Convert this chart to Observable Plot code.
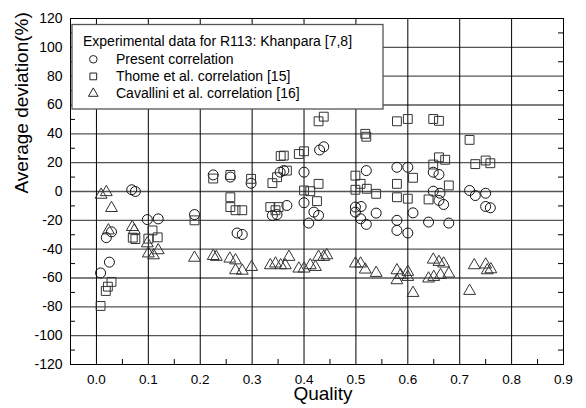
<!DOCTYPE html>
<html><head><meta charset="utf-8">
<script src="https://cdn.jsdelivr.net/npm/d3@7"></script>
<script src="https://cdn.jsdelivr.net/npm/@observablehq/plot@0.6"></script>
<style>body{margin:0;background:#fff}#chart{position:relative;width:586px;height:408px}</style>
</head><body><div id="chart"></div>
<script>
// Present correlation (circles)
const presentQuality = [0.008,0.025,0.019,0.029,0.068,0.075,0.098,0.119,0.189,0.225,0.258,0.298,0.271,0.281,0.354,0.361,0.339,0.348,0.367,0.438,0.43,0.4,0.4,0.419,0.428,0.409,0.52,0.499,0.51,0.499,0.539,0.509,0.52,0.579,0.6,0.579,0.579,0.6,0.61,0.649,0.66,0.649,0.662,0.66,0.669,0.64,0.679,0.719,0.73,0.75,0.75,0.759];
const presentDeviation = [-56.5,-49,-32,-28,1.2,0,-19.5,-19,-16,11.5,10,5.7,-28.8,-29.8,13.4,14.5,-16.6,-16,-9.7,31,28.8,13.4,-7.8,-14.3,-16.6,-21.9,14.5,-10.8,-10.4,-14.3,-15,-18.9,-22.8,16.8,16.8,-20,-27,-28.8,-14.8,13.4,11.8,0.2,-1.2,-6.2,-9,-21.2,-21.9,0.7,-2.8,-1.2,-10.4,-11.3];
// Thome et al. correlation (squares)
const thomeQuality = [0.008,0.018,0.022,0.029,0.07,0.075,0.1,0.108,0.118,0.189,0.225,0.258,0.298,0.258,0.258,0.268,0.281,0.355,0.361,0.39,0.367,0.348,0.339,0.335,0.345,0.351,0.438,0.428,0.4,0.428,0.4,0.412,0.425,0.518,0.52,0.499,0.509,0.499,0.521,0.539,0.579,0.6,0.579,0.579,0.61,0.6,0.64,0.649,0.66,0.66,0.672,0.649,0.679,0.719,0.73,0.75,0.759];
const thomeDeviation = [-79.4,-69,-66,-62.7,-32,-33,-32.7,-27,-31.8,-20,9,11.5,8.8,-4,-10.8,-13,-13,24.6,24.9,26,14.5,9.9,5.8,-10.8,-13,-10.8,51.9,48.7,27.9,5.3,0.7,0.2,-6.7,40,38,11,5.3,1.2,1.9,-1.6,48.7,50.3,5.3,-4,9.5,-5,-5.5,50.3,49,23.7,22,18.7,4.2,35.8,19,21.5,19.6];
// Cavallini et al. correlation (triangles)
const cavalliniQuality = [0.009,0.019,0.029,0.023,0.069,0.073,0.098,0.119,0.1,0.11,0.189,0.225,0.231,0.257,0.268,0.268,0.281,0.299,0.335,0.345,0.355,0.364,0.371,0.39,0.4,0.412,0.422,0.428,0.438,0.444,0.499,0.509,0.518,0.539,0.579,0.579,0.586,0.6,0.6,0.61,0.649,0.66,0.669,0.65,0.64,0.663,0.679,0.719,0.728,0.75,0.753,0.76];
const cavalliniDeviation = [-2.3,-0.5,-11.5,-27,-24.7,-27,-36,-40.8,-43,-44.3,-46,-44.8,-45.4,-46.6,-47.8,-54.7,-55,-52.4,-51.2,-50,-51.2,-51.2,-45.4,-53.5,-53.5,-51.2,-52.4,-45.4,-45.4,-44.3,-50,-50,-54.2,-56.5,-54.7,-61.6,-58,-55.8,-59.3,-70.4,-47.3,-48.9,-50,-59.3,-60.4,-58,-57,-69,-51.2,-50.7,-54.7,-54];

const xTicks = [0,0.1,0.2,0.3,0.4,0.5,0.6,0.7,0.8,0.9];
const xGrid = [0,0.1,0.2,0.3,0.4,0.5,0.6,0.7,0.8];
const xMinor = [0.05,0.15,0.25,0.35,0.45,0.55,0.65,0.75,0.85];
const yTicks = [-120,-100,-80,-60,-40,-20,0,20,40,60,80,100,120];
const yGrid = [-100,-80,-60,-40,-20,0,20,40,60,80,100];
const yMinor = [-110,-90,-70,-50,-30,-10,10,30,50,70,90,110];
const legendTitle = "Experimental data for R113: Khanpara [7,8]";
const seriesNames = ["Present correlation","Thome et al. correlation [15]","Cavallini et al. correlation [16]"];
const seriesSymbols = ["circle","square","triangle"];

const W = 586, H = 408, mt = 18, mb = 44, ml = 70, mr = 23;
const ph = H - mt - mb, pw = W - ml - mr;
const font = "'Liberation Sans', Arial, Helvetica, sans-serif";

const pts = (qs, ds) => qs.map((q, i) => ({q, d: ds[i]}));

const chart = Plot.plot({
  width: W, height: H, marginTop: mt, marginBottom: mb, marginLeft: ml, marginRight: mr,
  style: {fontFamily: font, fontSize: "14px", background: "white", color: "black"},
  x: {domain: [-0.05, 0.9]},
  y: {domain: [-120, 120]},
  marks: [
    Plot.ruleY(yGrid, {stroke: "#555", strokeWidth: 1.3}),
    Plot.ruleX(xGrid, {stroke: "black", strokeWidth: 1}),
    Plot.tickX(xMinor, {x: d => d, insetTop: ph - 5, stroke: "black"}),
    Plot.tickY(yMinor, {y: d => d, insetRight: pw - 5, stroke: "black"}),
    Plot.tickY(yMinor, {y: d => d, insetLeft: pw - 5, stroke: "black"}),
    Plot.axisX(xTicks, {tickSize: 0, tickPadding: 10, tickFormat: d3.format(".1f"), fontSize: 13.5, label: null}),
    Plot.axisY(yTicks, {tickSize: 0, tickPadding: 8, tickFormat: d => String(d), fontSize: 14, label: null}),
    Plot.dot(pts(presentQuality, presentDeviation), {x: "q", y: "d", symbol: "circle", r: 5, fill: "none", stroke: "#111", strokeWidth: 1}),
    Plot.dot(pts(thomeQuality, thomeDeviation), {x: "q", y: "d", symbol: "square", r: 5, fill: "none", stroke: "#333", strokeWidth: 1}),
    Plot.dot(pts(cavalliniQuality, cavalliniDeviation), {x: "q", y: "d", symbol: "triangle", r: 4.4, fill: "none", stroke: "#333", strokeWidth: 1}),
    Plot.frame({stroke: "black", strokeWidth: 1}),
    Plot.text(["Quality"], {frameAnchor: "bottom", dy: 35.5, dx: 6, fontSize: 19}),
    Plot.text(["Average deviation(%)"], {frameAnchor: "left", rotate: -90, dx: -49, dy: 2, fontSize: 19})
  ]
});
document.getElementById("chart").appendChild(chart);

// Legend box drawn into the plot's svg
const svg = d3.select(chart);
const g = svg.append("g").attr("font-family", font).attr("font-size", 14).attr("text-anchor", "start");
g.append("rect").attr("x", 72).attr("y", 24.5).attr("width", 311).attr("height", 84.5)
  .attr("fill", "white").attr("stroke", "#555").attr("stroke-width", 1.3);
g.append("text").attr("x", 83).attr("y", 45.5).attr("text-anchor", "start").text(legendTitle);
seriesNames.forEach((name, i) => {
  const cy = 59.3 + i * 17.1;
  const sym = {circle: d3.symbolCircle, square: d3.symbolSquare, triangle: d3.symbolTriangle}[seriesSymbols[i]];
  const r = i === 2 ? 3.6 : 3.8;
  g.append("path").attr("transform", `translate(93.3,${cy})`)
    .attr("d", d3.symbol(sym, Math.PI * r * r)()).attr("fill", "none").attr("stroke", "#222");
  g.append("text").attr("x", 116).attr("y", cy + 4.5).attr("text-anchor", "start").text(name);
});
</script></body></html>
